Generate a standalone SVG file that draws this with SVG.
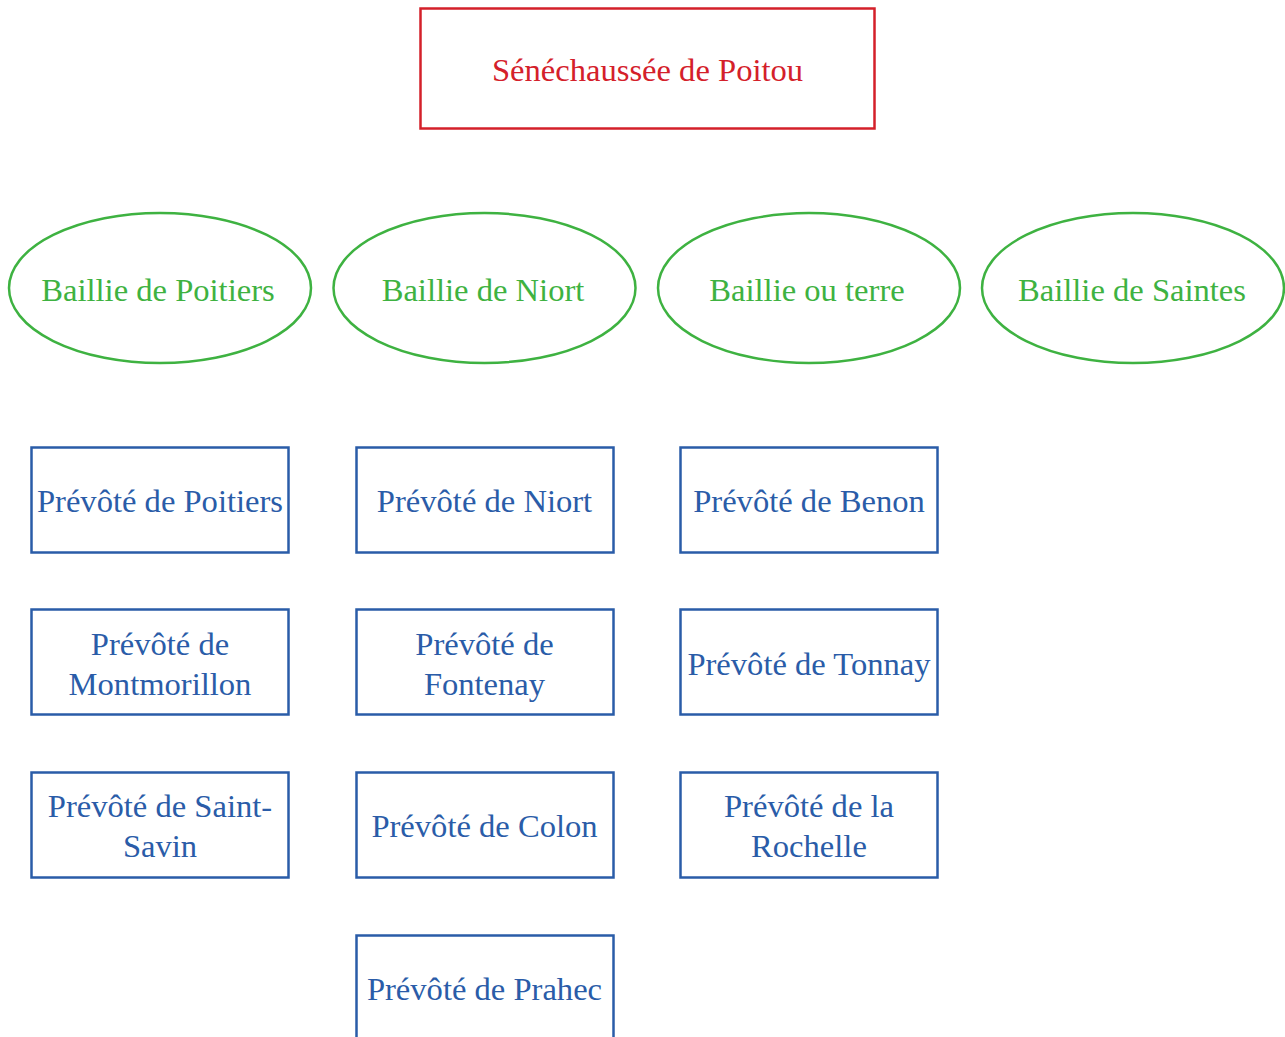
<svg xmlns="http://www.w3.org/2000/svg" width="1285" height="1037" viewBox="0 0 1285 1037">
<style>
text{font-family:"Liberation Serif","Times New Roman",serif;font-size:32.6px;text-anchor:middle}
.top rect{fill:#fff;stroke:#d4202a;stroke-width:2.5}
.top text{fill:#d4202a}
.bai ellipse{fill:#fff;stroke:#3eb241;stroke-width:2.5}
.bai text{fill:#3eb241}
.pre rect{fill:#fff;stroke:#2a5ca8;stroke-width:2.5}
.pre text{fill:#2a5ca8}
</style>
<rect width="1285" height="1037" fill="#fff"/>
<g id="connectors"/>
<g id="senechaussee" class="top"><rect x="420.5" y="8.5" width="454" height="120"/><text x="647.5" y="81">Sénéchaussée de Poitou</text></g>
<g id="baillie-poitiers" class="bai"><ellipse cx="160" cy="288" rx="151" ry="75"/><text x="158" y="301">Baillie de Poitiers</text></g>
<g id="baillie-niort" class="bai"><ellipse cx="484.5" cy="288" rx="151" ry="75"/><text x="483" y="301">Baillie de Niort</text></g>
<g id="baillie-terre" class="bai"><ellipse cx="809" cy="288" rx="151" ry="75"/><text x="807" y="301">Baillie ou terre</text></g>
<g id="baillie-saintes" class="bai"><ellipse cx="1133" cy="288" rx="151" ry="75"/><text x="1132" y="301">Baillie de Saintes</text></g>
<g id="prevote-poitiers" class="pre"><rect x="31.5" y="447.5" width="257" height="105"/><text x="160" y="512">Prévôté de Poitiers</text></g>
<g id="prevote-montmorillon" class="pre"><rect x="31.5" y="609.5" width="257" height="105"/><text x="160" y="655">Prévôté de</text><text x="160" y="695">Montmorillon</text></g>
<g id="prevote-saint-savin" class="pre"><rect x="31.5" y="772.5" width="257" height="105"/><text x="160" y="817">Prévôté de Saint-</text><text x="160" y="857">Savin</text></g>
<g id="prevote-niort" class="pre"><rect x="356.5" y="447.5" width="257" height="105"/><text x="484.5" y="512">Prévôté de Niort</text></g>
<g id="prevote-fontenay" class="pre"><rect x="356.5" y="609.5" width="257" height="105"/><text x="484.5" y="655">Prévôté de</text><text x="484.5" y="695">Fontenay</text></g>
<g id="prevote-colon" class="pre"><rect x="356.5" y="772.5" width="257" height="105"/><text x="484.5" y="837">Prévôté de Colon</text></g>
<g id="prevote-prahec" class="pre"><rect x="356.5" y="935.5" width="257" height="105"/><text x="484.5" y="1000">Prévôté de Prahec</text></g>
<g id="prevote-benon" class="pre"><rect x="680.5" y="447.5" width="257" height="105"/><text x="809" y="512">Prévôté de Benon</text></g>
<g id="prevote-tonnay" class="pre"><rect x="680.5" y="609.5" width="257" height="105"/><text x="809" y="675">Prévôté de Tonnay</text></g>
<g id="prevote-rochelle" class="pre"><rect x="680.5" y="772.5" width="257" height="105"/><text x="809" y="817">Prévôté de la</text><text x="809" y="857">Rochelle</text></g>
</svg>
